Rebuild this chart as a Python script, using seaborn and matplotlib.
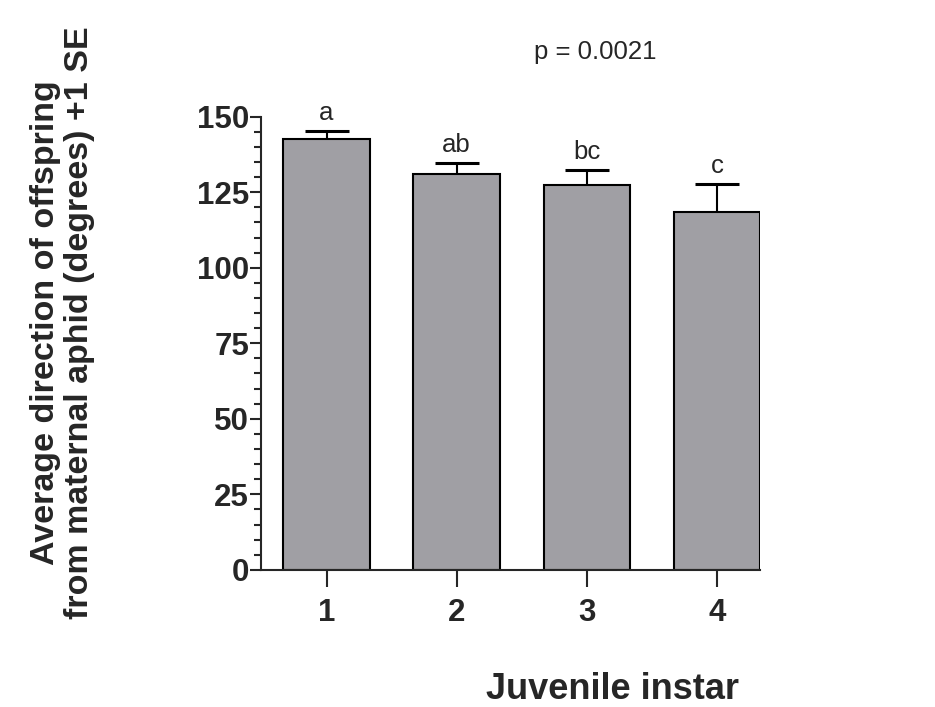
import matplotlib
matplotlib.use('Agg')
import matplotlib.pyplot as plt
import seaborn as sns
from matplotlib.ticker import MultipleLocator

# Data
instar = ['1', '2', '3', '4']
mean_dir = [142.7, 130.9, 127.3, 118.3]
se_dir = [2.7, 3.9, 5.2, 9.5]
letters = ['a', 'ab', 'bc', 'c']

sns.set_style('ticks')
plt.rcParams['font.family'] = ['Liberation Sans', 'DejaVu Sans']

fig, ax = plt.subplots(figsize=(9.35, 7.07), dpi=100)
ax.set_position([0.279, 0.194, 0.534, 0.641])

sns.barplot(x=instar, y=mean_dir, color='#a09fa4', edgecolor='black',
            linewidth=1.5, width=0.664, saturation=1, ax=ax)

# upper-only error bars (+1 SE)
eb = ax.errorbar(x=range(len(instar)), y=mean_dir, yerr=[[0] * 4, se_dir],
                 fmt='none', ecolor='black', elinewidth=1.5, capsize=16,
                 capthick=2.2, zorder=1)
eb[1][0].set_visible(False)  # no cap at the bar top

for i, lab in enumerate(letters):
    ax.text(i, mean_dir[i] + se_dir[i] + 3.5, lab, ha='center',
            va='baseline', fontsize=18.5, clip_on=False)

ax.set_xlim(-0.505, 3.333)
ax.set_ylim(0, 150)
ax.yaxis.set_major_locator(MultipleLocator(25))
ax.yaxis.set_minor_locator(MultipleLocator(5))
sns.despine(ax=ax)
for s in ['left', 'bottom']:
    ax.spines[s].set_linewidth(1.5)
ax.tick_params(axis='y', which='major', length=8, width=1.5, labelsize=22.5, pad=0.5)
ax.tick_params(axis='y', which='minor', length=5, width=1.5)
ax.tick_params(axis='x', which='major', length=12, width=1.5, labelsize=22.5, pad=8)
for t in ax.get_xticklabels() + ax.get_yticklabels():
    t.set_fontweight('bold')

ax.set_ylabel('Average direction of offspring\nfrom maternal aphid (degrees) +1 SE',
              fontsize=24.5, fontweight='bold', linespacing=1.12)
ax.yaxis.set_label_coords(-0.333, 0.545)
ax.set_xlabel('Juvenile instar', fontsize=26, fontweight='bold')
ax.xaxis.set_label_coords(0.705, -0.225)

ax.text(0.669, 1.143, 'p = 0.0021', transform=ax.transAxes, ha='center',
        va='center', fontsize=18.5)

fig.savefig('out.png', dpi=100)
